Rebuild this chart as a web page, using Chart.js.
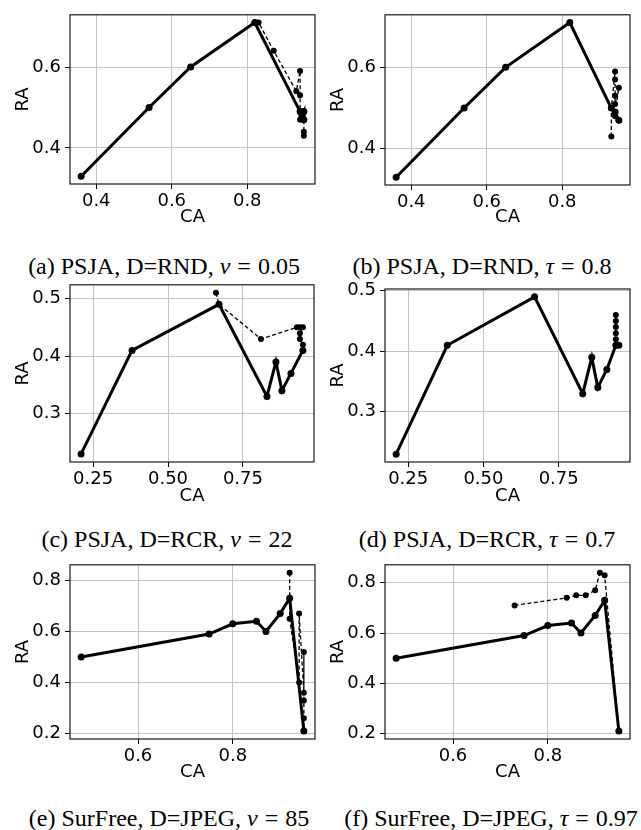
<!DOCTYPE html>
<html><head><meta charset="utf-8">
<script src="https://cdn.jsdelivr.net/npm/chart.js@4/dist/chart.umd.min.js"></script>
<style>
body{margin:0;background:#fff;width:641px;height:830px;position:relative;overflow:hidden;}
canvas{position:absolute;}
.cap{position:absolute;width:360px;text-align:center;font-family:"Liberation Serif","Times New Roman",serif;font-size:24px;line-height:26px;color:#000;white-space:nowrap;}
.cap i{font-style:italic;}
.cap .eq{padding:0 7px;}
</style></head><body>
<div class="cap" id="capA">(a) PSJA, D=RND, <i>ν</i><span class="eq">=</span>0.05</div>
<div class="cap" id="capB">(b) PSJA, D=RND, <i>τ</i><span class="eq">=</span>0.8</div>
<div class="cap" id="capC">(c) PSJA, D=RCR, <i>ν</i><span class="eq">=</span>22</div>
<div class="cap" id="capD">(d) PSJA, D=RCR, <i>τ</i><span class="eq">=</span>0.7</div>
<div class="cap" id="capE">(e) SurFree, D=JPEG, <i>ν</i><span class="eq">=</span>85</div>
<div class="cap" id="capF">(f) SurFree, D=JPEG, <i>τ</i><span class="eq">=</span>0.97</div>
<script>
// ---------- DATA ----------
// (a) PSJA, D=RND, nu = 0.05
const A_CA_SOLID = [0.36, 0.54, 0.65, 0.82, 0.94, 0.945, 0.95, 0.95];
const A_RA_SOLID = [0.33, 0.50, 0.60, 0.71, 0.49, 0.48, 0.49, 0.47];
const A_CA_DASH  = [0.82, 0.83, 0.87, 0.93, 0.94, 0.94, 0.94, 0.95, 0.95, 0.95];
const A_RA_DASH  = [0.71, 0.71, 0.64, 0.54, 0.59, 0.53, 0.47, 0.49, 0.44, 0.43];
// (b) PSJA, D=RND, tau = 0.8
const B_CA_SOLID = [0.36, 0.54, 0.65, 0.82, 0.93, 0.94, 0.95];
const B_RA_SOLID = [0.33, 0.50, 0.60, 0.71, 0.50, 0.49, 0.47];
const B_CA_DASH  = [0.93, 0.93, 0.94, 0.94, 0.94, 0.94, 0.95, 0.94, 0.94, 0.95];
const B_RA_DASH  = [0.43, 0.50, 0.59, 0.57, 0.53, 0.51, 0.55, 0.49, 0.48, 0.47];
// (c) PSJA, D=RCR, nu = 22
const C_CA_SOLID = [0.21, 0.38, 0.67, 0.83, 0.86, 0.88, 0.91, 0.95];
const C_RA_SOLID = [0.23, 0.41, 0.49, 0.33, 0.39, 0.34, 0.37, 0.41];
const C_CA_DASH  = [0.66, 0.67, 0.81, 0.93, 0.94, 0.95, 0.94, 0.94, 0.95, 0.95];
const C_RA_DASH  = [0.51, 0.49, 0.43, 0.45, 0.45, 0.45, 0.44, 0.43, 0.42, 0.41];
// (d) PSJA, D=RCR, tau = 0.7
const D_CA_SOLID = [0.21, 0.38, 0.67, 0.83, 0.86, 0.88, 0.91, 0.94, 0.95];
const D_RA_SOLID = [0.23, 0.41, 0.49, 0.33, 0.39, 0.34, 0.37, 0.41, 0.41];
const D_CA_DASH  = [0.94, 0.94, 0.94, 0.94, 0.94, 0.94];
const D_RA_DASH  = [0.41, 0.42, 0.43, 0.44, 0.45, 0.46];
// (e) SurFree, D=JPEG, nu = 85
const E_CA_SOLID = [0.48, 0.75, 0.80, 0.85, 0.87, 0.90, 0.92, 0.95];
const E_RA_SOLID = [0.50, 0.59, 0.63, 0.64, 0.60, 0.67, 0.73, 0.21];
const E_CA_DASH  = [0.92, 0.92, 0.92, 0.94, 0.94, 0.95, 0.95, 0.95, 0.95, 0.95];
const E_RA_DASH  = [0.83, 0.73, 0.65, 0.40, 0.67, 0.36, 0.52, 0.33, 0.26, 0.21];
// (f) SurFree, D=JPEG, tau = 0.97
const F_CA_SOLID = [0.48, 0.75, 0.80, 0.85, 0.87, 0.90, 0.92, 0.95];
const F_RA_SOLID = [0.50, 0.59, 0.63, 0.64, 0.60, 0.67, 0.73, 0.21];
const F_CA_DASH  = [0.73, 0.84, 0.86, 0.88, 0.90, 0.91, 0.92, 0.95];
const F_RA_DASH  = [0.71, 0.74, 0.75, 0.75, 0.77, 0.84, 0.83, 0.21];
// tick labels
const X_TICKS_RND  = [0.4, 0.6, 0.8];
const Y_TICKS_RND  = [0.4, 0.6];
const X_TICKS_RCR  = [0.25, 0.50, 0.75];
const Y_TICKS_RCR  = [0.3, 0.4, 0.5];
const X_TICKS_JPEG = [0.6, 0.8];
const Y_TICKS_JPEG = [0.2, 0.4, 0.6, 0.8];
const X_LABEL = 'CA';
const Y_LABEL = 'RA';

// ---------- LAYOUT ----------
const PANELS = [
  {cap:'capA', sx:A_CA_SOLID, sy:A_RA_SOLID, dx:A_CA_DASH, dy:A_RA_DASH, xt:X_TICKS_RND, yt:Y_TICKS_RND, xd:1, yd:1,
   box:{l:0,t:0,w:320,h:232}, area:{l:70,t:5,r:315,b:184}, capX:164, capY:266, yTitlePad:13},
  {cap:'capB', sx:B_CA_SOLID, sy:B_RA_SOLID, dx:B_CA_DASH, dy:B_RA_DASH, xt:X_TICKS_RND, yt:Y_TICKS_RND, xd:1, yd:1,
   box:{l:320,t:0,w:321,h:232}, area:{l:385,t:5,r:630,b:185}, capX:482, capY:266, yTitlePad:8},
  {cap:'capC', sx:C_CA_SOLID, sy:C_RA_SOLID, dx:C_CA_DASH, dy:C_RA_DASH, xt:X_TICKS_RCR, yt:Y_TICKS_RCR, xd:2, yd:1,
   box:{l:0,t:270,w:320,h:241}, area:{l:70,t:283,r:314,b:462}, capX:167, capY:539, yTitlePad:13},
  {cap:'capD', sx:D_CA_SOLID, sy:D_RA_SOLID, dx:D_CA_DASH, dy:D_RA_DASH, xt:X_TICKS_RCR, yt:Y_TICKS_RCR, xd:2, yd:1,
   box:{l:320,t:270,w:321,h:241}, area:{l:385,t:289,r:630,b:462}, capX:487, capY:539, yTitlePad:8},
  {cap:'capE', sx:E_CA_SOLID, sy:E_RA_SOLID, dx:E_CA_DASH, dy:E_RA_DASH, xt:X_TICKS_JPEG, yt:Y_TICKS_JPEG, xd:1, yd:1,
   box:{l:0,t:550,w:320,h:237}, area:{l:70,t:561,r:315,b:739}, capX:169, capY:818, yTitlePad:13},
  {cap:'capF', sx:F_CA_SOLID, sy:F_RA_SOLID, dx:F_CA_DASH, dy:F_RA_DASH, xt:X_TICKS_JPEG, yt:Y_TICKS_JPEG, xd:1, yd:1,
   box:{l:320,t:550,w:321,h:237}, area:{l:385,t:561,r:630,b:739}, capX:491, capY:818, yTitlePad:8}
];

function autoRange(a, b){
  const all = a.concat(b);
  const lo = Math.min(...all), hi = Math.max(...all);
  const m = (hi - lo) * 0.05;
  return [lo - m, hi + m];
}
function pts(xs, ys){ return xs.map((x, i) => ({x: x, y: ys[i]})); }

const FRAME = {
  id: 'frame',
  afterDatasetsDraw(chart){
    const {ctx, chartArea: a} = chart;
    ctx.save();
    ctx.strokeStyle = '#1a1a1a';
    ctx.lineWidth = 1.2;
    ctx.strokeRect(a.left, a.top, a.right - a.left, a.bottom - a.top);
    ctx.restore();
  }
};

const FONT = {family: "'DejaVu Sans', sans-serif", size: 18};

PANELS.forEach(p => {
  const c = document.createElement('canvas');
  c.width = p.box.w; c.height = p.box.h;
  c.style.left = p.box.l + 'px'; c.style.top = p.box.t + 'px';
  document.body.appendChild(c);
  const [xmin, xmax] = autoRange(p.sx, p.dx);
  const [ymin, ymax] = autoRange(p.sy, p.dy);
  const cap = document.getElementById(p.cap);
  cap.style.left = (p.capX - 180) + 'px';
  cap.style.top = (p.capY - 13) + 'px';
  new Chart(c, {
    type: 'scatter',
    data: {datasets: [
      {data: pts(p.dx, p.dy), showLine: true, borderColor: '#000', borderWidth: 1.3, borderDash: [4, 2.5],
       pointRadius: 3, pointBackgroundColor: '#000', pointBorderWidth: 0, pointHoverRadius: 3, tension: 0},
      {data: pts(p.sx, p.sy), showLine: true, borderColor: '#000', borderWidth: 3,
       pointRadius: 3.5, pointBackgroundColor: '#000', pointBorderWidth: 0, pointHoverRadius: 3.5, tension: 0}
    ]},
    options: {
      responsive: false, animation: false, events: [],
      plugins: {legend: {display: false}, tooltip: {enabled: false}},
      layout: {padding: {left: 0, bottom: 0, top: p.area.t - p.box.t, right: p.box.l + p.box.w - p.area.r}},
      scales: {
        x: {
          type: 'linear', position: 'bottom', min: xmin, max: xmax,
          afterFit: s => { s.height = p.box.t + p.box.h - p.area.b; },
          afterBuildTicks: s => { s.ticks = p.xt.map(v => ({value: v})); },
          ticks: {callback: v => Number(v).toFixed(p.xd), font: FONT, color: '#000', padding: 2, maxRotation: 0, autoSkip: false},
          grid: {color: '#c4c4c4', lineWidth: 1, tickLength: 5, tickColor: '#000', drawTicks: true},
          border: {display: false},
          title: {display: true, text: X_LABEL, font: FONT, color: '#000', padding: {top: 0, bottom: 4}}
        },
        y: {
          type: 'linear', position: 'left', min: ymin, max: ymax,
          afterFit: s => { s.width = p.area.l - p.box.l; },
          afterBuildTicks: s => { s.ticks = p.yt.map(v => ({value: v})); },
          ticks: {callback: v => Number(v).toFixed(p.yd), font: FONT, color: '#000', padding: 4, autoSkip: false},
          grid: {color: '#c4c4c4', lineWidth: 1, tickLength: 5, tickColor: '#000', drawTicks: true},
          border: {display: false},
          title: {display: true, text: Y_LABEL, font: FONT, color: '#000', padding: {top: p.yTitlePad, bottom: 0}}
        }
      }
    },
    plugins: [FRAME]
  });
});
</script>
</body></html>
